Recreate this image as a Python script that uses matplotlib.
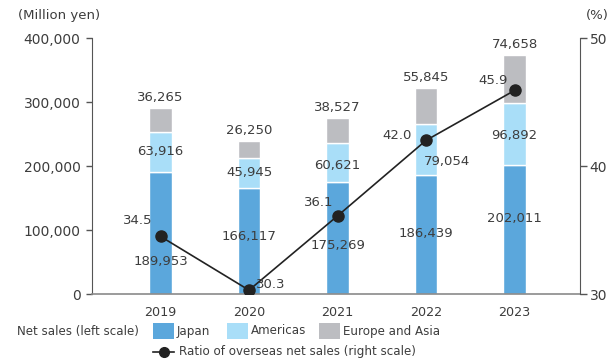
import matplotlib
matplotlib.use("Agg")
import matplotlib.pyplot as plt
from matplotlib.patches import Rectangle
from matplotlib.lines import Line2D
from matplotlib.ticker import FuncFormatter

years = ["2019", "2020", "2021", "2022", "2023"]
japan = [189953, 166117, 175269, 186439, 202011]
americas = [63916, 45945, 60621, 79054, 96892]
europe_asia = [36265, 26250, 38527, 55845, 74658]
ratio = [34.5, 30.3, 36.1, 42.0, 45.9]

# label placement (data units / pixel offsets), kept separate from data
japan_label_y = [50000, 90600, 76500, 95300, 118700]
amer_label_dx = [0, 0, 0, 0.24, 0]
amer_label_dy_px = [0, 0, -3, -12, -2]
ratio_label_off = [(-23, 16), (22, 6), (-19, 13), (-29, 5), (-21, 10)]

C_JP = "#5BA7DC"
C_AM = "#A9DEF8"
C_EU = "#BCBDC1"
TXT = "#3d3d3d"
AX = "#555555"
FS = 9.5
FS_TICK = 10
FS_LEG = 8.6

plt.rcParams["font.family"] = ["DejaVu Sans"]

fig = plt.figure(figsize=(6.11, 3.64), dpi=100)
W, H = 611, 364
ax = fig.add_axes([92 / W, 1 - 294 / H, (580 - 92) / W, (294 - 38) / H])
ax2 = ax.twinx()

x = list(range(len(years)))
bw = 0.253
ax.bar(x, japan, bw, color=C_JP, edgecolor="white", linewidth=1)
ax.bar(x, americas, bw, bottom=japan, color=C_AM, edgecolor="white", linewidth=1)
bottom3 = [a + b for a, b in zip(japan, americas)]
ax.bar(x, europe_asia, bw, bottom=bottom3, color=C_EU, edgecolor="white", linewidth=1)

ax.set_xlim(-0.774, 4.74)
ax.set_ylim(0, 400000)
ax.set_yticks([0, 100000, 200000, 300000, 400000])
ax.yaxis.set_major_formatter(FuncFormatter(lambda v, p: f"{int(v):,}"))
ax.set_xticks(x)
ax.set_xticklabels(years)
ax.tick_params(axis="y", direction="out", length=4.3, width=1, color=AX, labelcolor=TXT,
               labelsize=FS_TICK, pad=4)
ax.tick_params(axis="x", length=0, labelcolor=TXT, labelsize=9.2, pad=9)
for s in ["top", "right"]:
    ax.spines[s].set_visible(False)
ax.spines["left"].set_color(AX)
ax.spines["bottom"].set_color("#8a8a8a")
ax.spines["bottom"].set_linewidth(1.2)

# data labels
for i in range(len(years)):
    ax.text(x[i], japan_label_y[i], f"{japan[i]:,}", ha="center", va="center", fontsize=FS, color=TXT, zorder=5)
    ax.annotate(f"{americas[i]:,}", (x[i] + amer_label_dx[i], japan[i] + americas[i] / 2),
                xytext=(0, amer_label_dy_px[i]), textcoords="offset pixels",
                ha="center", va="center", fontsize=FS, color=TXT, zorder=5)
    ax.annotate(f"{europe_asia[i]:,}", (x[i], bottom3[i] + europe_asia[i]), xytext=(0, 4),
                textcoords="offset pixels", ha="center", va="bottom", fontsize=FS, color=TXT)

ax2.set_ylim(30, 50)
ax2.set_yticks([30, 40, 50])
ax2.plot(x, ratio, color="#222222", linewidth=1.2, marker="o", markersize=8, zorder=6)
for i in range(len(years)):
    dx, dy = ratio_label_off[i]
    ax2.annotate(f"{ratio[i]:.1f}", (x[i], ratio[i]), xytext=(dx, dy), textcoords="offset pixels",
                 ha="center", va="center", fontsize=FS, color=TXT, zorder=7)
ax2.tick_params(axis="y", direction="out", length=5, width=1, color=AX, labelcolor=TXT,
                labelsize=FS_TICK, pad=2)
for s in ["top", "left", "bottom"]:
    ax2.spines[s].set_visible(False)
ax2.spines["right"].set_color(AX)

# axis unit labels
fig.text(18 / W, 1 - 16 / H, "(Million yen)", ha="left", va="center", fontsize=9.5, color=TXT)
fig.text(609 / W, 1 - 16 / H, "(%)", ha="right", va="center", fontsize=9.5, color=TXT)

# legend (manual)
y1 = 1 - 331 / H
y2 = 1 - 352 / H
fig.text(17 / W, y1, "Net sales (left scale)", ha="left", va="center", fontsize=FS_LEG, color=TXT)
pw, ph = 21 / W, 16 / H
for px, col, lab in [(153, C_JP, "Japan"), (227, C_AM, "Americas"), (319, C_EU, "Europe and Asia")]:
    fig.add_artist(Rectangle((px / W, y1 - ph / 2), pw, ph, transform=fig.transFigure,
                             facecolor=col, edgecolor="none"))
    fig.text((px + 24) / W, y1, lab, ha="left", va="center", fontsize=FS_LEG, color=TXT)
fig.add_artist(Line2D([153 / W, 174 / W], [y2, y2], transform=fig.transFigure, color="#222222", linewidth=1.2))
fig.add_artist(Line2D([163.5 / W], [y2], transform=fig.transFigure, color="#222222", marker="o", markersize=7))
fig.text(179 / W, y2, "Ratio of overseas net sales (right scale)", ha="left", va="center",
         fontsize=FS_LEG, color=TXT)

fig.savefig("out.png", dpi=100)
